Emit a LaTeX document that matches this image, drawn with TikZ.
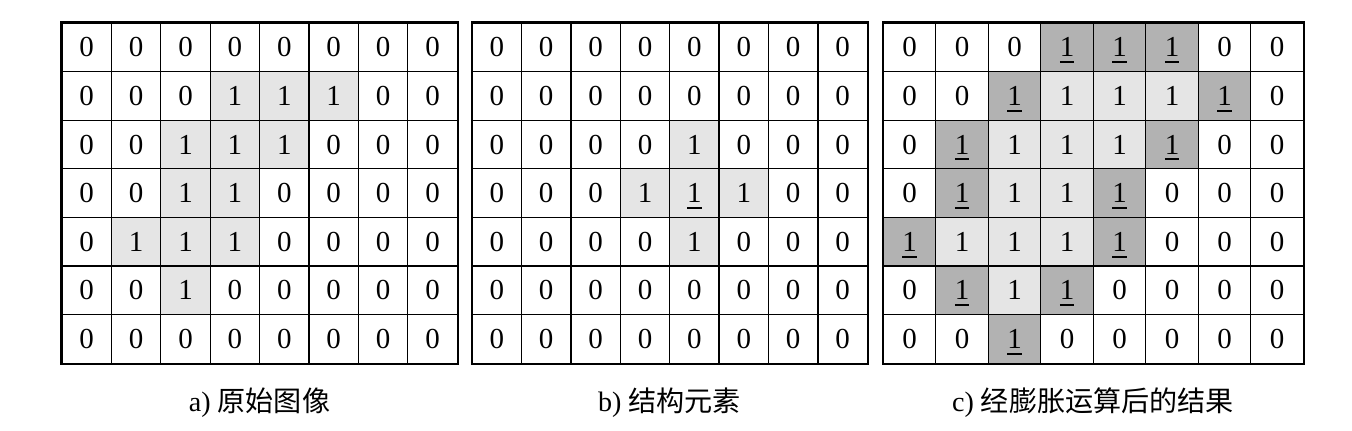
\documentclass[tikz,border=0pt]{standalone}
\usepackage{fontspec}
\setmainfont{Liberation Serif}
\newfontfamily\cjk{Noto Sans CJK SC}
\definecolor{c0}{gray}{1}
\definecolor{c1}{gray}{0.9}
\definecolor{c2}{gray}{0.7}
\colorlet{c3}{c1}
% 0 = empty, 1 = set, 2 = added by dilation, 3 = origin of the element
\newcommand{\ubar}[1]{\leavevmode\rlap{\smash{\rule[-0.22em]{0.5em}{0.07em}}}#1}
\newcommand{\bit}[1]{\ifcase#1 0\or 1\or \ubar{1}\or \ubar{1}\fi}
\tikzset{
  cell/.style={draw, line width=0.7pt, inner sep=0pt, minimum width=#1,
    minimum height=0.972cm, font=\fontsize{16.5}{19}\selectfont},
  frame/.style={line width=1.1pt},
  caption/.style={font=\fontsize{16}{19}\selectfont}
}

\begin{document}
\begin{tikzpicture}[x=0.02cm,y=-0.02cm]
  \useasboundingbox (0,0) rectangle (1352,430);
  \begin{scope}
    \foreach \r/\row in {0/{0,0,0,0,0,0,0,0}, 1/{0,0,0,1,1,1,0,0},
        2/{0,0,1,1,1,0,0,0}, 3/{0,0,1,1,0,0,0,0}, 4/{0,1,1,1,0,0,0,0},
        5/{0,0,1,0,0,0,0,0}, 6/{0,0,0,0,0,0,0,0}}
      \foreach \v [count=\c from 0] in \row
        \node[cell=0.988cm, fill=c\v] (a-\r-\c) at ({86.7+49.4*\c}, {47.3+48.6*\r}) {\bit\v};
    \draw[frame] (a-0-0.north west) rectangle (a-6-7.south east);
  \end{scope}
  \begin{scope}
    \foreach \r/\row in {0/{0,0,0,0,0,0,0,0}, 1/{0,0,0,0,0,0,0,0},
        2/{0,0,0,0,1,0,0,0}, 3/{0,0,0,1,3,1,0,0}, 4/{0,0,0,0,1,0,0,0},
        5/{0,0,0,0,0,0,0,0}, 6/{0,0,0,0,0,0,0,0}}
      \foreach \v [count=\c from 0] in \row
        \node[cell=0.988cm, fill=c\v] (b-\r-\c) at ({496.8+49.4*\c}, {47.3+48.6*\r}) {\bit\v};
    \draw[frame] (b-0-0.north west) rectangle (b-6-7.south east);
  \end{scope}
  \begin{scope}
    \foreach \r/\row in {0/{0,0,0,2,2,2,0,0}, 1/{0,0,2,1,1,1,2,0},
        2/{0,2,1,1,1,2,0,0}, 3/{0,2,1,1,2,0,0,0}, 4/{2,1,1,1,2,0,0,0},
        5/{0,2,1,2,0,0,0,0}, 6/{0,0,2,0,0,0,0,0}}
      \foreach \v [count=\c from 0] in \row
        \node[cell=1.05cm, fill=c\v] (c-\r-\c) at ({909.5+52.5*\c}, {47.3+48.6*\r}) {\bit\v};
    \draw[frame] (c-0-0.north west) rectangle (c-6-7.south east);
  \end{scope}
  \node[caption] (cap-a) at (259.5,403) {a) {\cjk 原始图像}};
  \node[caption] (cap-b) at (669.5,403) {b) {\cjk 结构元素}};
  \node[caption] (cap-c) at (1093,403) {c) {\cjk 经膨胀运算后的结果}};
\end{tikzpicture}
\end{document}
